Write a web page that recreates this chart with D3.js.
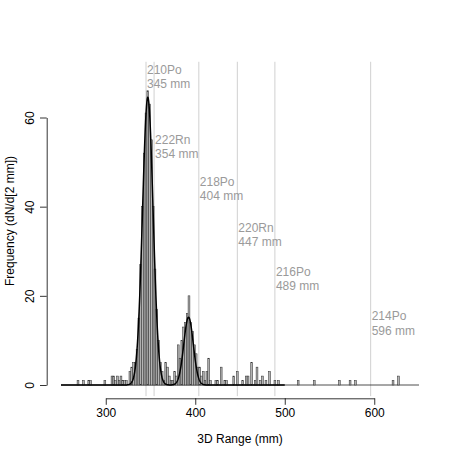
<!DOCTYPE html>
<html>
<head>
<meta charset="utf-8">
<script src="https://cdn.jsdelivr.net/npm/d3@7"></script>
<style>
  body { margin: 0; background: #fff; }
  svg { font-family: "Liberation Sans", Arial, sans-serif; }
</style>
</head>
<body>
<div class="svg_area"></div>
<script>
// histogram, 2 mm bins from 250 to 650 mm (only non-empty bins listed)
var histRange = [250, 650];
var binWidth = 2;
var binLeft = [268, 274, 280, 282, 298, 306, 308, 310, 312, 314, 316, 318, 320, 322,
  326, 328, 330, 332, 334, 336, 338, 340, 342, 344, 346, 348, 350, 352, 354, 356, 358,
  360, 362, 364, 366, 368, 370, 372, 374, 376, 378, 380, 382, 384, 386, 388, 390, 392,
  394, 396, 398, 400, 402, 404, 406, 408, 410, 412, 414, 416, 422, 424, 428, 432, 434,
  442, 446, 452, 456, 458, 462, 466, 468, 472, 474, 478, 482, 488, 492,
  514, 532, 560, 572, 578, 620, 626];
var binCount = [1, 1, 1, 1, 1, 2, 2, 1, 2, 1, 2, 1, 1, 1,
  3, 4, 5, 5, 8, 15, 27, 40, 52, 61, 66, 63, 55, 40, 26, 17, 10,
  5, 3, 1, 5, 4, 2, 1, 1, 3, 2, 9, 6, 10, 13, 14, 16, 20,
  14, 12, 9, 7, 4, 4, 2, 3, 1, 3, 6, 1, 1, 1, 4, 1, 1,
  2, 3, 1, 2, 2, 5, 1, 4, 1, 2, 1, 3, 1, 1,
  1, 1, 1, 1, 1, 1, 2];

// gaussian fits drawn over the histogram
var fitMean = [347, 392.5];
var fitSigma = [5.9, 5.3];
var fitPeak = [64.5, 15.2];
var fitRange = [250, 500];

// decay lines and labels
var decayName = ["210Po", "222Rn", "218Po", "220Rn", "216Po", "214Po"];
var decayRange = [345, 354, 404, 447, 489, 596];
var labelY = [69.7, 54.0, 44.6, 34.4, 24.5, 14.5];

var xTicks = [300, 400, 500, 600];
var yTicks = [0, 20, 40, 60];

var svgWidth = 457;
var svgHeight = 457;

var svg = d3.select(".svg_area")
  .append("svg")
  .attr("width", svgWidth)
  .attr("height", svgHeight);

var x = d3.scaleLinear().domain(histRange).range([61, 419]);
var y = d3.scaleLinear().domain([0, 60]).range([385, 117.5]);

// vertical reference lines
svg.selectAll(".vline")
  .data(decayRange)
  .enter()
  .append("line")
  .attr("x1", d => x(d))
  .attr("x2", d => x(d))
  .attr("y1", y(72.5))
  .attr("y2", y(-2.5))
  .attr("stroke", "#d0d0d0")
  .attr("stroke-width", 1);

// histogram baseline (empty bins)
svg.append("line")
  .attr("x1", x(histRange[0]))
  .attr("x2", x(histRange[1]))
  .attr("y1", y(0))
  .attr("y2", y(0))
  .attr("stroke", "#222")
  .attr("stroke-width", 0.8);

var bins = binLeft.map((b, i) => ({ x0: b, n: binCount[i] }));

svg.selectAll(".bar")
  .data(bins)
  .enter()
  .append("rect")
  .attr("x", d => x(d.x0))
  .attr("y", d => y(d.n))
  .attr("width", d => x(d.x0 + binWidth) - x(d.x0))
  .attr("height", d => y(0) - y(d.n))
  .attr("fill", "#b4b4b4")
  .attr("stroke", "#333")
  .attr("stroke-width", 0.55);

// fitted curve
var curveX = d3.range(fitRange[0], fitRange[1] + 0.25, 0.25);
var fit = function(v) {
  var s = 0;
  for (var k = 0; k < fitMean.length; k++) {
    var z = (v - fitMean[k]) / fitSigma[k];
    s += fitPeak[k] * Math.exp(-0.5 * z * z);
  }
  return s;
};

svg.append("path")
  .datum(curveX)
  .attr("fill", "none")
  .attr("stroke", "#000")
  .attr("stroke-width", 1.5)
  .attr("d", d3.line().x(d => x(d)).y(d => y(fit(d))));

// labels
var labels = svg.selectAll(".lab")
  .data(decayName)
  .enter()
  .append("text")
  .attr("fill", "#9a9a9a")
  .attr("font-size", 12)
  .attr("x", (d, i) => x(decayRange[i]) + 1)
  .attr("y", (d, i) => y(labelY[i]));

labels.append("tspan").text(d => d);
labels.append("tspan")
  .attr("x", (d, i) => x(decayRange[i]) + 1)
  .attr("dy", 14.2)
  .text((d, i) => decayRange[i] + " mm");

// x axis
var xAxisScale = x.copy().domain([300, 600]).range([x(300), x(600)]);
var xAxis = svg.append("g")
  .attr("transform", "translate(0, 398.3)")
  .call(d3.axisBottom(xAxisScale).tickValues(xTicks).tickSize(6.5).tickSizeOuter(0).tickPadding(4));
xAxis.selectAll("text").attr("font-size", 12).attr("fill", "#000").attr("font-family", null);
xAxis.selectAll("path, line").attr("stroke", "#000").attr("stroke-width", 0.8);

// y axis
var yAxis = svg.append("g")
  .attr("transform", "translate(46.7, 0)")
  .call(d3.axisLeft(y).tickValues(yTicks).tickSize(6.7).tickSizeOuter(0));
yAxis.selectAll("text")
  .attr("font-size", 12)
  .attr("fill", "#000")
  .attr("font-family", null)
  .attr("x", 0)
  .attr("dy", 0)
  .attr("text-anchor", "middle")
  .attr("transform", "translate(-13.2, 0) rotate(-90)");
yAxis.selectAll("path, line").attr("stroke", "#000").attr("stroke-width", 0.8);

// axis titles
svg.append("text")
  .attr("x", 240)
  .attr("y", 443)
  .attr("text-anchor", "middle")
  .attr("font-size", 12)
  .text("3D Range (mm)");

svg.append("text")
  .attr("transform", "translate(14, 221) rotate(-90)")
  .attr("text-anchor", "middle")
  .attr("font-size", 12)
  .text("Frequency (dN/d[2 mm])");
</script>
</body>
</html>
